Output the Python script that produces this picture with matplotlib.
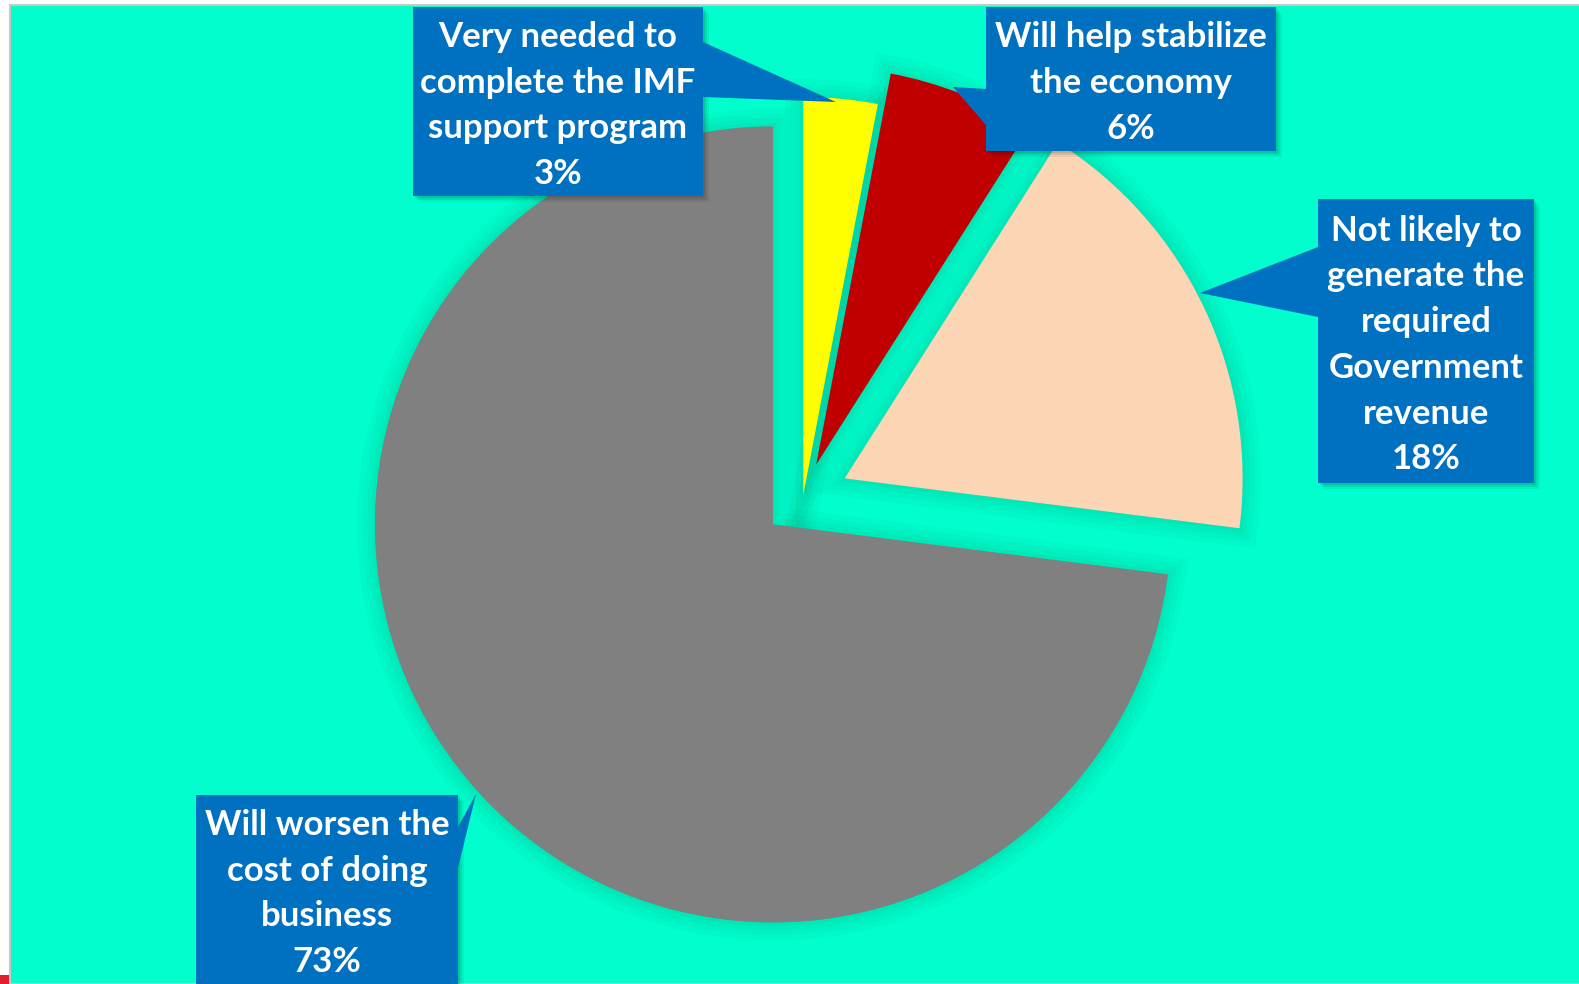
import matplotlib.pyplot as plt
import matplotlib.patheffects as pe
from matplotlib.patches import Rectangle, Polygon

# survey answers, clockwise from 12 o'clock
answers = ["Very needed to\ncomplete the IMF\nsupport program",
           "Will help stabilize\nthe economy",
           "Not likely to\ngenerate the\nrequired\nGovernment\nrevenue",
           "Will worsen the\ncost of doing\nbusiness"]
shares = [3, 6, 18, 73]
colors = ["#FFFF00", "#C00000", "#FCD5B5", "#808080"]
explode = [3, 36, 46, 40]   # pixels

W, H = 1579, 984
BLUE = "#0070C0"
BG = "#00FFCC"


def fy(y):
    # pixel rows are counted from the top
    return H - y


# callout boxes: (left, top, right, bottom), pointer tip, pointer base points
callouts = [
    ((413, 7, 703, 196), (836, 102), [(703, 42), (703, 97)]),
    ((986, 7, 1276, 151), (953, 87), [(986, 89), (986, 125)]),
    ((1318, 199, 1534, 483), (1200, 293), [(1318, 247), (1318, 317)]),
    ((196, 795, 458, 990), (476, 794), [(458, 827), (458, 868)]),
]

fig = plt.figure(figsize=(W / 100, H / 100), dpi=100, facecolor="white")
ax = fig.add_axes([0, 0, 1, 1])

ax.add_patch(Rectangle((10, 0), W, fy(5), facecolor=BG, edgecolor="#C8C8C8",
                       linewidth=1.5, zorder=0))
ax.add_patch(Rectangle((0, 0), 9, 9, facecolor="#E02030", edgecolor="none", zorder=0))

pie_kw = dict(explode=explode, startangle=90, counterclock=False, radius=398,
              center=(803, fy(498)))

# soft halo under the slices
halo, _ = ax.pie(shares, colors=["black"] * len(shares),
                 wedgeprops=dict(linewidth=0), **pie_kw)
for w in halo:
    w.set_path_effects([pe.Stroke(linewidth=lw, foreground="black", alpha=0.025)
                        for lw in (26, 18, 11, 5)])
    w.set_zorder(1)

wedges, _ = ax.pie(shares, colors=colors, wedgeprops=dict(linewidth=0), **pie_kw)
for w in wedges:
    w.set_zorder(2)

for (x0, y0, x1, y1), tip, base in callouts:
    box_pts = [(x0, fy(y0)), (x1, fy(y0)), (x1, fy(y1)), (x0, fy(y1))]
    ptr_pts = [(tip[0], fy(tip[1]))] + [(bx, fy(by)) for bx, by in base]
    for d, a in ((2, 0.10), (4, 0.08), (6, 0.06)):
        ax.add_patch(Polygon([(px + d, py - d) for px, py in box_pts],
                             closed=True, facecolor="black", alpha=a,
                             edgecolor="none", zorder=3))
    ax.add_patch(Polygon(ptr_pts, closed=True, facecolor=BLUE, edgecolor="none", zorder=4))
    ax.add_patch(Polygon(box_pts, closed=True, facecolor=BLUE, edgecolor="none", zorder=4))

for (box, _, _), text, share in zip(callouts, answers, shares):
    x0, y0, x1, y1 = box
    y1 = min(y1, H)
    ax.text((x0 + x1) / 2, fy((y0 + y1) / 2 + 4), f"{text}\n{share}%",
            ha="center", va="center", color="white", fontsize=25,
            fontweight="bold", family=["Lato", "DejaVu Sans"],
            linespacing=1.53, zorder=5)

ax.set_xlim(0, W)
ax.set_ylim(0, H)
ax.set_aspect("equal")
ax.axis("off")

fig.savefig("out.png", dpi=100, facecolor="white")
